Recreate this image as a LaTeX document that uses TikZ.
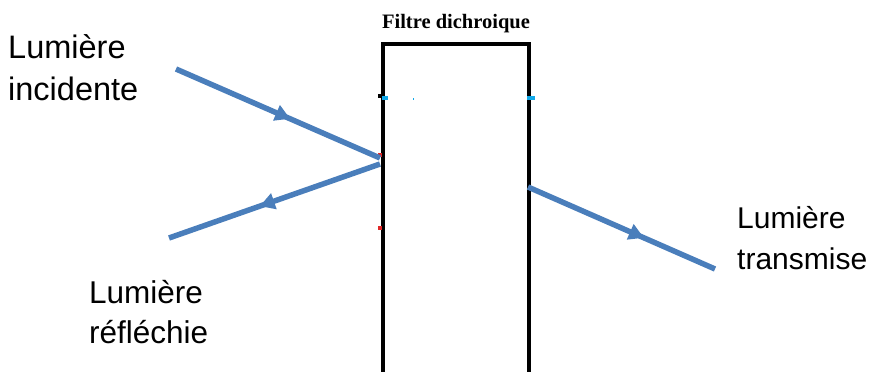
\documentclass[tikz,border=0pt]{standalone}
\usepackage{fontspec}
\setmainfont{Liberation Sans}
\newfontfamily\titlefont{Liberation Serif}
\usetikzlibrary{arrows.meta,decorations.markings}
\definecolor{raycol}{HTML}{4A7EBB}
\definecolor{dotcyan}{HTML}{10A8E8}
\definecolor{dotred}{HTML}{E02828}
\tikzset{
  ray/.style={draw=raycol, line width=5.5pt, postaction={decorate},
    decoration={markings, mark=at position #1 with {\arrow[raycol]{Triangle[length=15pt,width=16pt]}}}},
  filterline/.style={draw=black, line width=4.3pt},
  lbl/.style={anchor=base west, align=left, inner sep=0pt},
}
\begin{document}
\begin{tikzpicture}[x=1pt,y=-1pt]
\useasboundingbox (0,0) rectangle (879,372);
% filter
\coordinate (fbl) at (383,374);
\coordinate (ftl) at (383,44);
\coordinate (ftr) at (529,44);
\coordinate (fbr) at (529,374);
\draw[filterline, line join=miter] (fbl) -- (ftl) -- (ftr) -- (fbr);
\node[anchor=base, inner sep=0pt, font=\titlefont\bfseries\fontsize{20.5}{24}\selectfont] (title) at (456,28) {Filtre dichroique};
% small marks
\fill[black] (378,94) rectangle (382,98);
\fill[dotcyan] (382,96) rectangle (388,99.5);
\fill[dotcyan] (412.5,98) rectangle (414,99.5);
\fill[dotcyan] (527,96) rectangle (535,99.5);
\fill[dotred] (378,153) rectangle (382,157);
\fill[dotred] (378,225.5) rectangle (382,229.5);
% rays
\coordinate (inA) at (176,69);
\coordinate (inB) at (380,158);
\coordinate (reA) at (380,164);
\coordinate (reB) at (169,238);
\coordinate (trA) at (528,187);
\coordinate (trB) at (715,269);
\draw[ray=0.56] (inA) -- (inB);
\draw[ray=0.57] (reA) -- (reB);
\draw[ray=0.62] (trA) -- (trB);
% labels (base = last line)
\node[lbl, font=\fontsize{32.5}{42}\selectfont] (linc) at (8,100) {Lumière\\incidente};
\node[lbl, font=\fontsize{31.5}{40}\selectfont] (lref) at (89,343) {Lumière\\réfléchie};
\node[lbl, font=\fontsize{30}{41}\selectfont] (ltra) at (737,269) {Lumière\\transmise};
\end{tikzpicture}
\end{document}
